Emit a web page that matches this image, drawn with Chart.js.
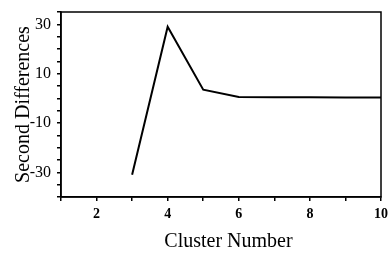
<!DOCTYPE html>
<html>
<head>
<meta charset="utf-8">
<script src="https://cdn.jsdelivr.net/npm/chart.js@4/dist/chart.umd.min.js"></script>
<style>
  html, body { margin: 0; padding: 0; background: #fff; }
  #wrap { width: 389px; height: 253px; }
</style>
</head>
<body>
<div id="wrap"><canvas id="chart"></canvas></div>
<script>
// cluster counts and their second differences
const clusters = [3, 4, 5, 6, 7, 8, 9, 10];
const secondDiffs = [-31, 29, 3.5, 0.5, 0.4, 0.4, 0.3, 0.3];
const yLabelled = [30, 10, -10, -30];
const xLabelled = [2, 4, 6, 8, 10];

const points = clusters.map((c, i) => ({ x: c, y: secondDiffs[i] }));

// box around the plot area
const frame = {
  id: "frame",
  afterDraw(chart) {
    const { ctx, chartArea: a } = chart;
    ctx.save();
    ctx.strokeStyle = "#000";
    ctx.lineWidth = 1.5;
    ctx.strokeRect(a.left, a.top, a.right - a.left, a.bottom - a.top);
    ctx.restore();
  },
};

// fixed axis sizes, no extra room for overhanging labels
function fixSize(w, h) {
  return (s) => {
    if (w) s.width = w;
    if (h) s.height = h;
    s.paddingLeft = s.paddingRight = s.paddingTop = s.paddingBottom = 0;
  };
}

const serif = "'Liberation Serif', 'Times New Roman', serif";

new Chart(document.getElementById("chart"), {
  type: "line",
  data: {
    datasets: [
      {
        data: points,
        borderColor: "#000",
        borderWidth: 2,
        pointRadius: 0,
        tension: 0,
      },
    ],
  },
  options: {
    responsive: true,
    maintainAspectRatio: false,
    animation: false,
    layout: { padding: { top: 12, right: 8, left: 0, bottom: 0 } },
    plugins: { legend: { display: false }, tooltip: { enabled: false } },
    scales: {
      x: {
        type: "linear",
        min: 1,
        max: 10,
        afterFit: fixSize(0, 56),
        grid: { drawOnChartArea: false, drawTicks: true, tickLength: 4, color: "#000", lineWidth: 1.5 },
        border: { color: "#000", width: 1.5 },
        ticks: {
          stepSize: 1,
          autoSkip: false,
          maxRotation: 0,
          padding: 5,
          color: "#000",
          font: { family: serif, size: 14, weight: "bold" },
          callback: (v) => (xLabelled.includes(v) ? String(v) : ""),
        },
        title: {
          display: true,
          text: "   Cluster Number",
          color: "#000",
          font: { family: serif, size: 20 },
          padding: { top: 0, bottom: -1 },
        },
      },
      y: {
        min: -40,
        max: 35,
        afterFit: fixSize(61, 0),
        grid: { drawOnChartArea: false, drawTicks: true, tickLength: 4, color: "#000", lineWidth: 1.5 },
        border: { color: "#000", width: 1.5 },
        ticks: {
          stepSize: 5,
          autoSkip: false,
          padding: 6,
          color: "#000",
          font: { family: serif, size: 16 },
          callback: (v) => (yLabelled.includes(v) ? String(v) : ""),
        },
        title: {
          display: true,
          text: "Second Differences",
          color: "#000",
          font: { family: serif, size: 20 },
          padding: { top: 12, bottom: 0 },
        },
      },
    },
  },
  plugins: [frame],
});
</script>
</body>
</html>
